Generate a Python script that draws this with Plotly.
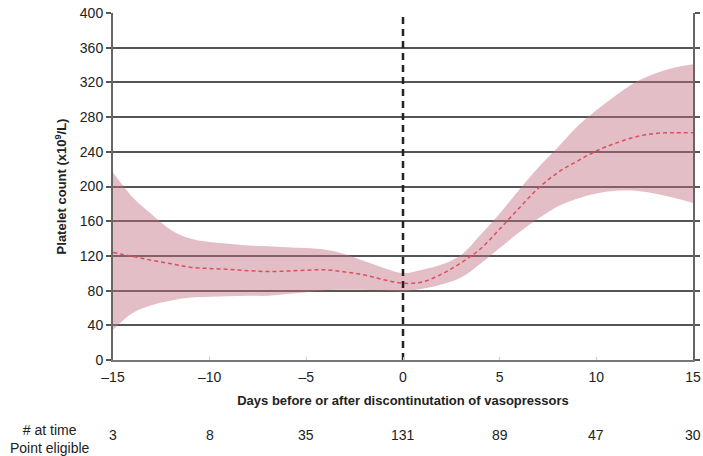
import plotly.graph_objects as go

# ---- data ----
days = list(range(-15, 16))
mean_platelets = [124, 119.5, 115, 111, 107, 105.5, 104.5, 103, 102, 102.5, 103.5, 104, 101.5, 98, 92.5,
                  88.5, 90, 99, 112, 128, 151, 175, 198, 216, 229, 241, 250, 257, 261, 262, 262]
upper_ci = [216, 188, 168, 150, 140, 136, 134, 132, 131, 130, 129, 127, 122, 114, 106,
            100, 104, 110, 121, 144, 169, 196, 222, 245, 269, 288, 305, 320, 330, 337, 341]
lower_ci = [35, 54, 63, 68.5, 72, 73, 73.5, 74, 74, 76, 78, 80.5, 81, 81, 80,
            79, 82, 87, 95, 111, 129, 147, 163, 177, 186, 192, 195, 195, 192, 187, 181]

x_tick_vals = [-15, -10, -5, 0, 5, 10, 15]
x_tick_text = ["\u201315", "\u201310", "\u20135", "0", "5", "10", "15"]
y_tick_vals = [0, 40, 80, 120, 160, 200, 240, 280, 320, 360, 400]

at_risk_x = [-15, -10, -5, 0, 5, 10, 15]
at_risk_n = ["3", "8", "35", "131", "89", "47", "30"]

vline_x = 0

FONT = "Liberation Sans, Arial, Helvetica, sans-serif"
TXT = "#222222"

fig = go.Figure()

# confidence band (lower then upper filled to it)
fig.add_trace(go.Scatter(x=days, y=lower_ci, mode="lines", line=dict(width=0, shape="spline"),
                         hoverinfo="skip", showlegend=False))
fig.add_trace(go.Scatter(x=days, y=upper_ci, mode="lines", line=dict(width=0, shape="spline"),
                         fill="tonexty", fillcolor="rgba(196,110,128,0.45)",
                         hoverinfo="skip", showlegend=False))
# mean line
fig.add_trace(go.Scatter(x=days, y=mean_platelets, mode="lines",
                         line=dict(color="#D9505F", width=1.5, dash="4px,3px", shape="spline"),
                         showlegend=False))
# vertical dashed line at discontinuation
fig.add_trace(go.Scatter(x=[vline_x, vline_x], y=[0, 400], mode="lines",
                         line=dict(color="#222222", width=2.5, dash="7px,5px"),
                         showlegend=False, hoverinfo="skip"))

fig.update_layout(
    width=703, height=456,
    margin=dict(l=113, r=10, t=13, b=96),
    paper_bgcolor="white", plot_bgcolor="white",
    font=dict(family=FONT, color=TXT, size=14),
    showlegend=False,
)

fig.update_xaxes(
    range=[-15, 15], tickvals=x_tick_vals, ticktext=x_tick_text,
    showgrid=False, zeroline=False, automargin=False,
    showline=True, linecolor="#777777", linewidth=2,
    ticks="inside", ticklen=3, tickcolor="#cccccc", tickwidth=1,
    ticklabelstandoff=3,
    tickfont=dict(size=14, color=TXT),
    title=dict(text="<b>Days before or after discontinutation of vasopressors</b>",
               font=dict(size=13, color=TXT), standoff=12),
)

fig.update_yaxes(
    range=[0, 400], tickvals=y_tick_vals, automargin=False,
    showgrid=True, gridcolor="#555555", gridwidth=1.5,
    zeroline=False,
    showline=True, linecolor="#666666", linewidth=2, mirror="ticks",
    ticks="outside", ticklen=5, tickcolor="#555555", tickwidth=1.5,
    tickfont=dict(size=14, color=TXT),
    title=dict(text="<b>Platelet count (x10<sup>9</sup>/L)</b>",
               font=dict(size=13, color=TXT), standoff=10),
)

# numbers at risk row
plot_h = 456 - 13 - 96
for xv, n in zip(at_risk_x, at_risk_n):
    fig.add_annotation(x=xv, xref="x", y=(360 - 435) / plot_h, yref="paper",
                       text=n, showarrow=False, font=dict(size=14, color=TXT),
                       xanchor="center", yanchor="middle")
fig.add_annotation(x=(50 - 113) / 580, xref="paper", y=(360 - 438.5) / plot_h, yref="paper",
                   text="# at time<br>Point eligible", showarrow=False,
                   font=dict(size=14, color=TXT), xanchor="center", yanchor="middle", align="center")

fig.write_html("out.html", config={"displayModeBar": False},
               post_script="document.body.style.margin='0';document.body.style.padding='0';")
